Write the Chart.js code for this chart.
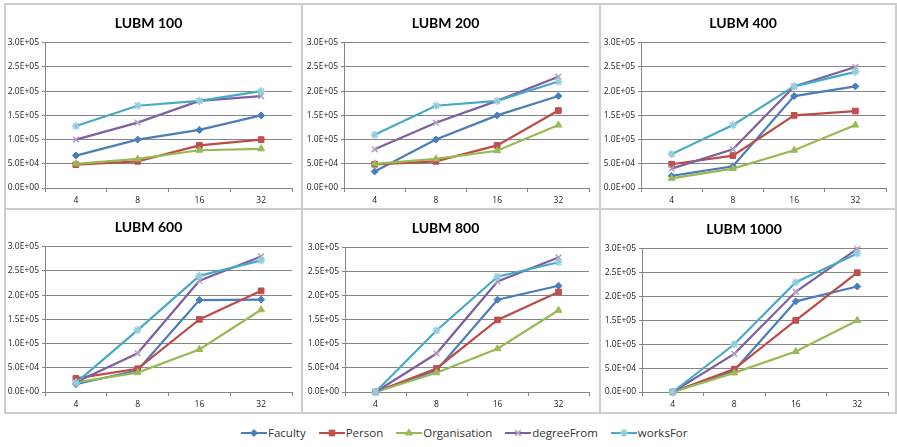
<!DOCTYPE html>
<html>
<head>
<meta charset="utf-8">
<script src="https://cdn.jsdelivr.net/npm/chart.js@4.4.1/dist/chart.umd.min.js"></script>
<style>
  html, body { margin:0; padding:0; background:#fff; }
  #stage { position:relative; width:897px; height:447px; overflow:hidden; background:#fff; }
  .frame { position:absolute; border:2px solid #cdcdcd; box-sizing:border-box; pointer-events:none; z-index:2; }
  canvas.panel { position:absolute; z-index:1; }
  #legend { position:absolute; top:425px; left:241px; display:flex; align-items:center;
            font-family:"Open Sans", "DejaVu Sans", sans-serif; font-size:11.5px; color:#333; white-space:nowrap; }
  .item { display:flex; align-items:center; margin-right:13px; }
  .item canvas { margin-right:1px; }
</style>
</head>
<body>
<div id="stage">
  <div id="legend"></div>
</div>
<script>
// ---------------- data ----------------
const categories = ['4', '8', '16', '32'];
const panelTitles = ['LUBM 100', 'LUBM 200', 'LUBM 400', 'LUBM 600', 'LUBM 800', 'LUBM 1000'];
const seriesNames = ['Faculty', 'Person', 'Organisation', 'degreeFrom', 'worksFor'];
// one row per panel (LUBM 100 .. LUBM 1000), values at 4, 8, 16, 32
const faculty = [
  [67000, 100000, 120000, 150000],
  [34000, 100000, 150000, 190000],
  [25000, 45000, 190000, 210000],
  [16000, 45000, 190000, 191000],
  [0, 45000, 192000, 221000],
  [0, 45000, 190000, 221000]
];
const person = [
  [48000, 55000, 88000, 100000],
  [49000, 55000, 88000, 160000],
  [49000, 67000, 150000, 159000],
  [28000, 48000, 150000, 209000],
  [0, 49000, 150000, 208000],
  [0, 48000, 150000, 250000]
];
const organisation = [
  [50000, 60000, 78000, 81000],
  [50000, 60000, 77000, 130000],
  [20000, 40000, 78000, 130000],
  [20000, 40000, 88000, 170000],
  [0, 40000, 90000, 170000],
  [0, 40000, 85000, 150000]
];
const degreeFrom = [
  [100000, 135000, 180000, 190000],
  [80000, 135000, 180000, 230000],
  [40000, 80000, 210000, 250000],
  [20000, 80000, 230000, 280000],
  [0, 80000, 230000, 280000],
  [0, 80000, 210000, 300000]
];
const worksFor = [
  [128000, 170000, 180000, 200000],
  [110000, 170000, 180000, 220000],
  [70000, 130000, 210000, 240000],
  [19000, 128000, 240000, 272000],
  [0, 128000, 240000, 270000],
  [0, 100000, 230000, 290000]
];
const yMin = 0, yMax = 300000, yStep = 50000;

// ---------------- styles / layout ----------------
const allSeries = [faculty, person, organisation, degreeFrom, worksFor];
const colors = ['#4a7ebb', '#be4b48', '#98b954', '#7d60a0', '#46aac5'];
const markerFill = ['#4a7ebb', '#c0504d', '#9bbb59', '#b3a2c7', '#93cddd'];
const pointStyles = ['rectRot', 'rect', 'triangle', 'crossRot', 'star'];
const pointRadius = [3.5, 4, 4, 4, 4];
// panel boxes: x, y, w, h, y-axis width, right pad, title-top pad
const boxes = [
  [5, 4, 297, 205, 40, 10, 11],
  [302, 4, 298, 205, 42, 11, 11],
  [600, 4, 296, 205, 41, 10, 11],
  [5, 209, 297, 204, 40, 10, 10],
  [302, 209, 298, 204, 43, 11, 11],
  [600, 209, 296, 204, 42, 8, 12]
];
const FONT = '"Open Sans", "DejaVu Sans", sans-serif';
const TITLE_FONT = 'Lato, "Open Sans", sans-serif';
const AXIS = '#858585';

function sci(v) {
  if (v === 0) return '0.0E+00';
  const e = Math.floor(Math.log10(v) + 1e-9);
  const m = v / Math.pow(10, e);
  return m.toFixed(1) + 'E+' + String(e).padStart(2, '0');
}

const stage = document.getElementById('stage');

boxes.forEach((b, p) => {
  const [x, y, w, h, yW, rp, tp] = b;
  const cv = document.createElement('canvas');
  cv.className = 'panel';
  cv.width = w; cv.height = h;
  cv.style.left = x + 'px'; cv.style.top = y + 'px';
  cv.style.width = w + 'px'; cv.style.height = h + 'px';
  stage.appendChild(cv);
  const fr = document.createElement('div');
  fr.className = 'frame';
  fr.style.left = (x - 1) + 'px'; fr.style.top = (y - 1) + 'px';
  fr.style.width = (w + 2) + 'px'; fr.style.height = (h + 2) + 'px';
  stage.appendChild(fr);

  const datasets = seriesNames.map((name, i) => ({
    label: name,
    data: allSeries[i][p],
    borderColor: colors[i],
    backgroundColor: markerFill[i],
    pointBackgroundColor: markerFill[i],
    pointBorderColor: (i >= 3) ? markerFill[i] : colors[i],
    pointStyle: pointStyles[i],
    pointRadius: pointRadius[i],
    pointBorderWidth: (i >= 3) ? 1.6 : 1,
    borderWidth: 2.2,
    tension: 0,
    fill: false,
    clip: false,
    order: 4 - i
  }));

  new Chart(cv, {
    type: 'line',
    data: { labels: categories, datasets },
    options: {
      responsive: false,
      animation: false,
      events: [],
      layout: { padding: { left: 0, right: rp, top: 0, bottom: 0 } },
      plugins: {
        legend: { display: false },
        tooltip: { enabled: false },
        title: {
          display: true,
          text: panelTitles[p],
          color: '#000',
          font: { family: TITLE_FONT, size: 14, weight: 'bold' },
          padding: { top: tp, bottom: 11 }
        }
      },
      scales: {
        x: {
          type: 'category',
          offset: true,
          grid: { offset: true, drawOnChartArea: false, drawTicks: true, tickLength: 4, color: AXIS, lineWidth: 1 },
          border: { color: AXIS, width: 1 },
          ticks: { color: '#222', font: { family: FONT, size: 8.5 }, padding: 3, maxRotation: 0, autoSkip: false },
          afterFit: s => { s.height = 21; }
        },
        y: {
          min: yMin, max: yMax,
          grid: { color: AXIS, lineWidth: 1, drawTicks: true, tickLength: 3 },
          border: { color: AXIS, width: 1 },
          ticks: { stepSize: yStep, callback: v => sci(v), color: '#222', font: { family: FONT, size: 8.5 }, padding: 3 },
          afterFit: s => { s.width = yW; }
        }
      }
    }
  });
});

// ---------------- legend ----------------
const legend = document.getElementById('legend');
seriesNames.forEach((name, i) => {
  const item = document.createElement('div');
  item.className = 'item';
  const ic = document.createElement('canvas');
  ic.width = 26; ic.height = 12;
  ic.style.width = '26px'; ic.style.height = '12px';
  const ctx = ic.getContext('2d');
  ctx.strokeStyle = colors[i];
  ctx.lineWidth = 2;
  ctx.beginPath(); ctx.moveTo(0, 6); ctx.lineTo(26, 6); ctx.stroke();
  if (Chart.helpers && Chart.helpers.drawPoint) {
    ctx.fillStyle = markerFill[i];
    ctx.strokeStyle = (i >= 3) ? markerFill[i] : colors[i];
    ctx.lineWidth = (i >= 3) ? 1.6 : 1;
    Chart.helpers.drawPoint(ctx, { pointStyle: pointStyles[i], radius: pointRadius[i], rotation: 0, borderWidth: ctx.lineWidth }, 13, 6);
  }
  const t = document.createElement('span');
  t.textContent = name;
  item.appendChild(ic); item.appendChild(t);
  legend.appendChild(item);
});
</script>
</body>
</html>
